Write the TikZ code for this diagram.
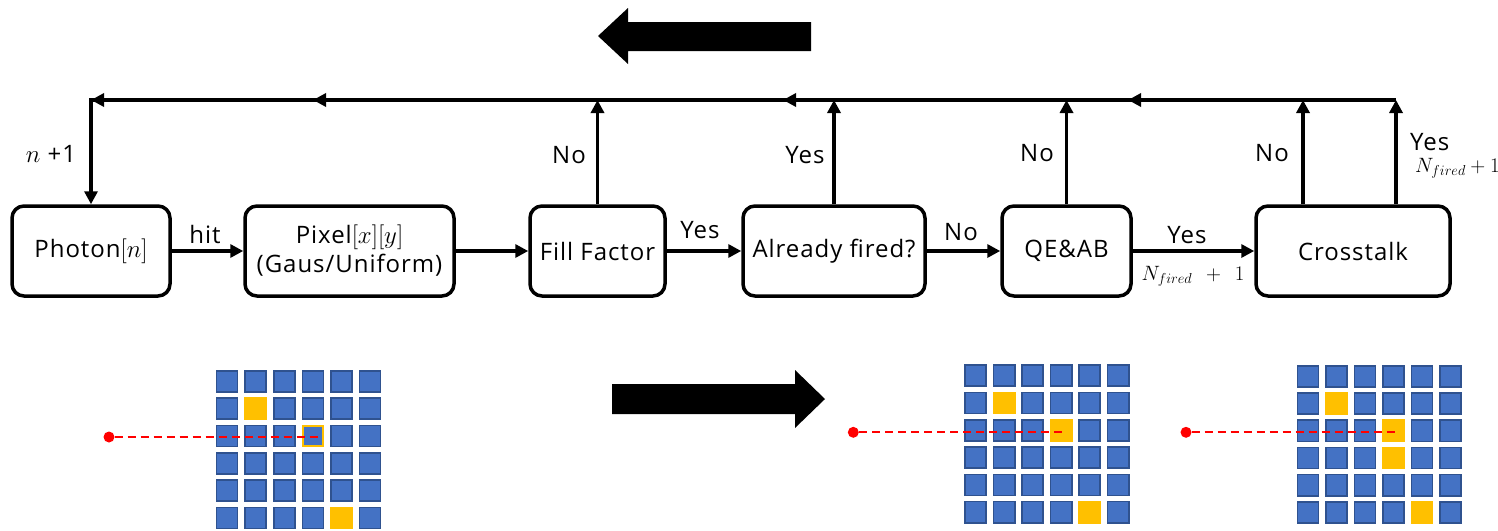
\documentclass[tikz,border=0pt]{standalone}
\usepackage[no-math]{fontspec}
\setmainfont{Open Sans}
\newfontfamily\lblfont[LetterSpace=4]{Open Sans}
\usetikzlibrary{arrows.meta,calc}
\definecolor{pblue}{HTML}{4472C4}
\definecolor{pdark}{HTML}{2F528F}
\definecolor{pyel}{HTML}{FFC000}
\definecolor{dotred}{HTML}{FF0000}
\newcommand\mygrid[4]{%
  \foreach \r in {0,...,5}{\foreach \c in {0,...,5}{
    \draw[cell] ({#1+\c*#3+0.8},{#2+\r*#4+0.8}) rectangle ++(21.1,21.1);}}}
\newcommand\ycell[6]{\fill[pyel] ({#1+#5*#3},{#2+#6*#4}) rectangle ++(22.7,22.7);}
\newcommand\bm[1]{{\fontsize{26}{29}\selectfont$#1$}}
\begin{document}
\begin{tikzpicture}[x=1pt,y=-1pt,
  box/.style={draw,line width=3.5pt,rounded corners=12pt,inner sep=0pt,align=center,
    minimum height=90pt,font=\lblfont\fontsize{24}{29}\selectfont},
  conn/.style={line width=3.5pt,-{Triangle[length=13pt,width=13pt]}},
  plainline/.style={line width=3.5pt},
  lbl/.style={font=\lblfont\fontsize{24}{28}\selectfont,anchor=base,inner sep=0pt},
  mlbl/.style={font=\fontsize{21}{25}\selectfont,anchor=base,inner sep=0pt},
  cell/.style={fill=pblue,draw=pdark,line width=1.6pt},
  reddot/.style={circle,fill=dotred,minimum size=11pt,inner sep=0pt},
  ray/.style={dotred,line width=2pt,dash pattern=on 8pt off 5pt},
  bigarrow/.style={fill=black}
]
\useasboundingbox (0,0) rectangle (1498,530);

% big arrows
\fill[bigarrow] (598,36) -- (628,8) -- (628,22) -- (811,22) -- (811,51) -- (628,51) -- (628,64) -- cycle;
\fill[bigarrow] (825,399) -- (795,370) -- (795,384) -- (612,384) -- (612,414) -- (795,414) -- (795,428) -- cycle;

% boxes
\node[box,minimum width=158pt] (photon) at (91,251) {Photon\bm{[n]}};
\node[box,minimum width=209pt] (pixel) at (349.5,251) {Pixel\bm{[x][y]}\\(Gaus/Uniform)};
\node[box,minimum width=135pt] (ff) at (597.5,251) {Fill Factor};
\node[box,minimum width=182pt] (af) at (834,251) {Already fired?};
\node[box,minimum width=129pt] (qe) at (1066.5,251) {QE\&AB};
\node[box,minimum width=194pt] (ct) at (1353,251) {Crosstalk};

% horizontal connectors
\draw[conn] (photon) -- (pixel);
\draw[conn] (pixel) -- (ff);
\draw[conn] (ff) -- (af);
\draw[conn] (af) -- (qe);
\draw[conn] (qe) -- (ct);

% top return line
\coordinate (tr) at (1396,100);
\coordinate (m3) at (1128,100);
\coordinate (m2) at (783,100);
\coordinate (m1) at (313,100);
\coordinate (tl) at (91,100);
\draw[plainline] (tr) -- (tl);
\draw[conn] (tr) -- (m3);
\draw[conn] (m3) -- (m2);
\draw[conn] (m2) -- (m1);
\draw[conn] (m1) -- (tl);
\draw[conn] ([yshift=1.75pt]tl) -- (photon.north);

% vertical up connectors
\draw[conn] (ff.north) -- (ff.north |- tl);
\draw[conn] (af.north) -- (af.north |- tl);
\draw[conn] (qe.north) -- (qe.north |- tl);
\coordinate (ctl) at ($(ct.north)+(-50,0)$);
\coordinate (ctr) at ($(ct.north)+(43,0)$);
\draw[conn] (ctl) -- (ctl |- tl);
\draw[conn] (ctr) -- (tr);

% labels
\node[lbl] (lhit) at (205,243) {hit};
\node[lbl] (lyes1) at (700,238) {Yes};
\node[lbl] (lno1) at (961,240) {No};
\node[lbl] (lyes2) at (1187,243) {Yes};
\node[mlbl] (lnf1) at (1193,280) {$N_{fired}\;\,+\;\,1$};
\node[lbl] (lno2) at (569,163) {No};
\node[lbl] (lyes3) at (805,163) {Yes};
\node[lbl] (lno3) at (1037,161) {No};
\node[lbl] (lno4) at (1272,161) {No};
\node[lbl,anchor=base west] (lyes4) at (1410,150) {Yes};
\node[mlbl,anchor=base west,font=\fontsize{20}{23}\selectfont] (lnf2) at (1415,172) {$N_{fired}+1$};
\node[lbl] (ln1) at (51,162) {{\fontsize{29}{30}\selectfont$n$} +1};

% grid 1
\mygrid{215.7}{370}{28.6}{27.3}
\ycell{215.7}{370}{28.6}{27.3}{1}{1}
\ycell{215.7}{370}{28.6}{27.3}{4}{5}
\draw[fill=pblue,draw=pyel,line width=2pt] ({215.7+3*28.6+1},{370+2*27.3+1}) rectangle ++(20.7,20.7);
\node[reddot] (d1) at (109,437) {};
\coordinate (e1) at (320,437);
\draw[ray] (d1) -- (e1);

% grid 2
\mygrid{964.3}{364.3}{28.5}{27.3}
\ycell{964.3}{364.3}{28.5}{27.3}{1}{1}
\ycell{964.3}{364.3}{28.5}{27.3}{3}{2}
\ycell{964.3}{364.3}{28.5}{27.3}{4}{5}
\node[reddot] (d2) at (853.3,432.3) {};
\coordinate (e2) at (1065,432.3);
\draw[ray] (d2) -- (e2);

% grid 3
\mygrid{1296.7}{365}{28.5}{27.2}
\ycell{1296.7}{365}{28.5}{27.2}{1}{1}
\ycell{1296.7}{365}{28.5}{27.2}{3}{2}
\ycell{1296.7}{365}{28.5}{27.2}{3}{3}
\ycell{1296.7}{365}{28.5}{27.2}{4}{5}
\node[reddot] (d3) at (1186,432.3) {};
\coordinate (e3) at (1396.7,432.3);
\draw[ray] (d3) -- (e3);
\end{tikzpicture}
\end{document}
